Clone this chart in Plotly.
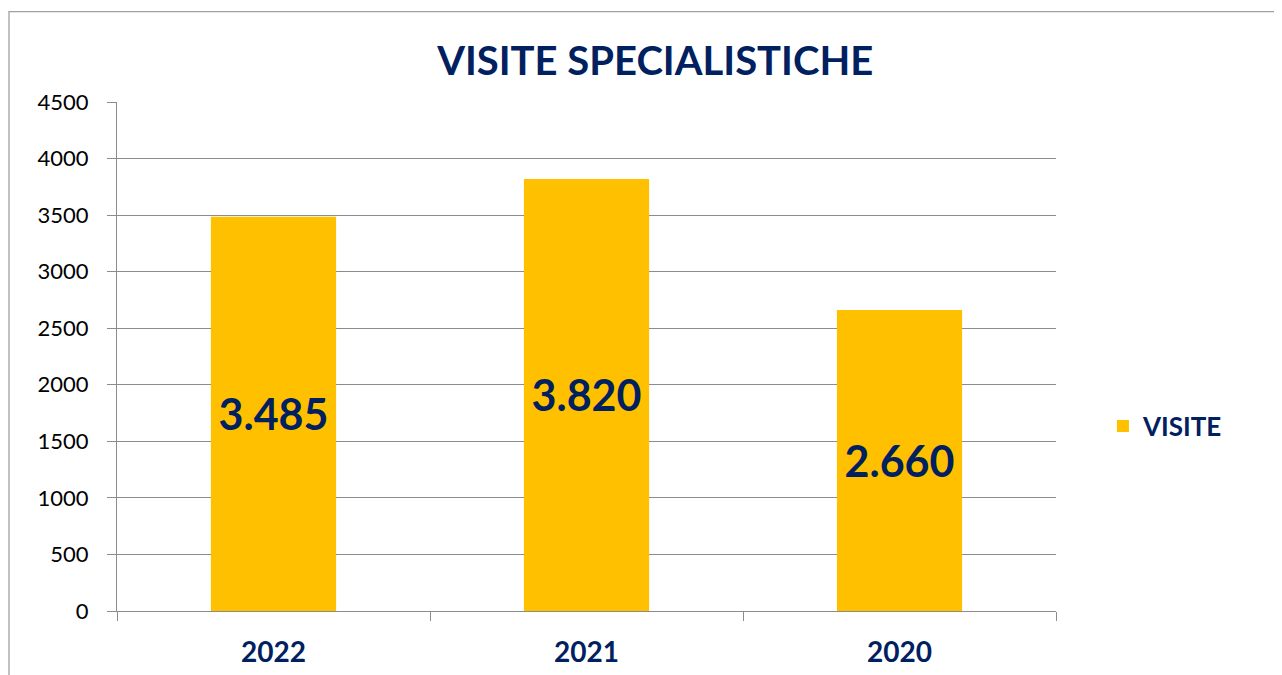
import plotly.graph_objects as go

categories = ["2022", "2021", "2020"]
visite = [3485, 3820, 2660]
y_ticks = [0, 500, 1000, 1500, 2000, 2500, 3000, 3500, 4000, 4500]

NAVY = "#002060"
GOLD = "#FFC000"
GRID = "#8C8C8C"
FONT = "Lato"
OFF = 8  # browser body margin

fig = go.Figure()
fig.add_trace(go.Bar(
    x=categories, y=visite, name="VISITE",
    marker=dict(color=GOLD, line=dict(width=0)),
    width=0.4,
    texttemplate="%{y:,.0f}", textposition="inside", insidetextanchor="middle",
    textfont=dict(family=FONT, size=43, color=NAVY, weight="bold"),
    textangle=0,
))

fig.update_layout(
    width=1282 - OFF, height=675 - OFF,
    margin=dict(l=117 - OFF, r=226, t=101.5 - OFF, b=64, autoexpand=False),
    paper_bgcolor="white", plot_bgcolor="white",
    separators=",.",
    showlegend=True,
    title=dict(text="<b>VISITE SPECIALISTICHE</b>", x=0.508, xanchor="center",
               y=1 - (61 - OFF) / (675 - OFF), yanchor="middle", yref="container",
               font=dict(family=FONT, size=40, color=NAVY)),
    legend=dict(x=1.05, y=(611 - 426) / 509.5, xanchor="left", yanchor="middle",
                font=dict(family=FONT, size=26, color=NAVY, weight="bold"),
                itemwidth=30, bgcolor="rgba(0,0,0,0)"),
    xaxis=dict(type="category", showline=True, linecolor=GRID, linewidth=1.3,
               ticks="outside", tickson="boundaries", ticklen=9, tickcolor=GRID,
               tickwidth=1.3, showgrid=False,
               tickfont=dict(family=FONT, size=28, color=NAVY, weight="bold"),
               ticklabelstandoff=16),
    yaxis=dict(range=[0, 4500], tickvals=y_ticks, showline=True, linecolor=GRID,
               linewidth=1.3, ticks="outside", ticklen=9, tickcolor=GRID, tickwidth=1.3,
               showgrid=True, gridcolor=GRID, gridwidth=1.3, zeroline=False,
               tickfont=dict(family=FONT, size=22, color="black"),
               ticklabelstandoff=14),
    shapes=[dict(type="rect", xref="paper", yref="paper",
                 x0=(9 - 117) / 939, x1=1.4, y0=-0.3, y1=(611 - 11) / 509.5,
                 line=dict(color="#A0A0A0", width=1.3), fillcolor="rgba(0,0,0,0)",
                 layer="below")],
)

fig.write_html("out.html")
